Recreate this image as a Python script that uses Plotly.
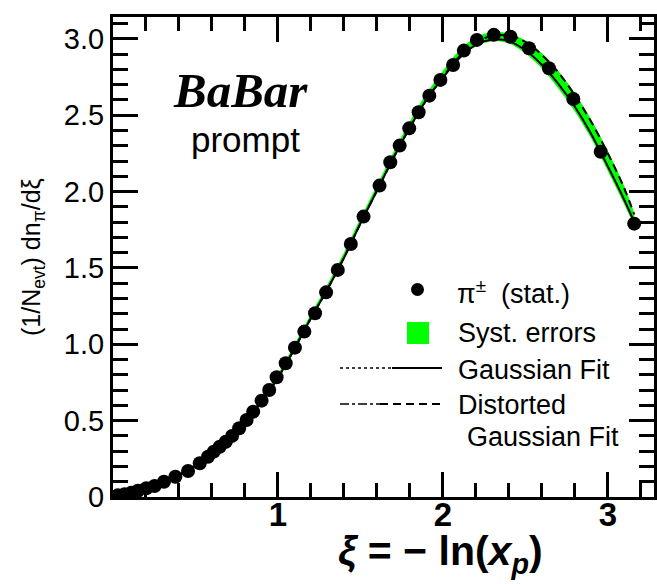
import plotly.graph_objects as go

# ---------------- data ----------------
xi_pts = [0.029, 0.070, 0.111, 0.151, 0.202, 0.252, 0.309, 0.378, 0.455, 0.526,
          0.576, 0.611, 0.647, 0.684, 0.722, 0.765, 0.810, 0.850, 0.901, 0.947,
          0.992, 1.047, 1.103, 1.160, 1.225, 1.292, 1.363, 1.442, 1.519, 1.616,
          1.681, 1.738, 1.796, 1.853, 1.918, 1.985, 2.062, 2.127, 2.206, 2.309,
          2.410, 2.522, 2.643, 2.791, 2.957, 3.160]
dn_pts = [0.011, 0.018, 0.028, 0.041, 0.057, 0.072, 0.100, 0.133, 0.170, 0.221,
          0.264, 0.297, 0.329, 0.362, 0.400, 0.450, 0.504, 0.559, 0.631, 0.701,
          0.784, 0.876, 0.978, 1.083, 1.203, 1.340, 1.487, 1.657, 1.836, 2.039,
          2.192, 2.301, 2.414, 2.519, 2.628, 2.731, 2.829, 2.923, 2.993, 3.026,
          3.014, 2.938, 2.807, 2.606, 2.261, 1.790]

fit_x = [0.00, 0.10, 0.20, 0.30, 0.40, 0.50, 0.60, 0.70, 0.80, 0.90, 1.00,
         1.10, 1.20, 1.30, 1.40, 1.50, 1.60, 1.70, 1.80, 1.90, 2.00, 2.10,
         2.20, 2.30, 2.40, 2.50, 2.60, 2.70, 2.80, 2.90, 3.00, 3.10, 3.16]
gauss_fit = [0.005, 0.025, 0.055, 0.095, 0.145, 0.205, 0.285, 0.375, 0.490, 0.625, 0.780,
             0.970, 1.170, 1.360, 1.565, 1.790, 2.005, 2.220, 2.420, 2.600, 2.745, 2.875,
             2.960, 2.995, 2.985, 2.925, 2.830, 2.705, 2.555, 2.375, 2.165, 1.945, 1.800]
dist_fit = [0.005, 0.025, 0.055, 0.095, 0.145, 0.205, 0.285, 0.375, 0.490, 0.625, 0.780,
            0.970, 1.170, 1.360, 1.565, 1.790, 2.005, 2.220, 2.420, 2.600, 2.750, 2.885,
            2.975, 3.020, 3.020, 2.980, 2.895, 2.780, 2.630, 2.455, 2.250, 2.020, 1.850]
syst_lo = [0.000, 0.018, 0.046, 0.085, 0.135, 0.195, 0.275, 0.365, 0.480, 0.615, 0.770,
           0.960, 1.160, 1.350, 1.555, 1.780, 1.995, 2.210, 2.410, 2.590, 2.735, 2.865,
           2.950, 2.985, 2.970, 2.905, 2.805, 2.675, 2.525, 2.345, 2.135, 1.915, 1.775]
syst_hi = [0.012, 0.032, 0.064, 0.105, 0.157, 0.220, 0.302, 0.393, 0.510, 0.647, 0.805,
           0.998, 1.200, 1.392, 1.600, 1.825, 2.042, 2.258, 2.460, 2.642, 2.790, 2.925,
           3.010, 3.045, 3.035, 2.990, 2.905, 2.790, 2.645, 2.470, 2.265, 2.035, 1.860]

y_tickvals = [0, 0.5, 1.0, 1.5, 2.0, 2.5, 3.0]
y_ticktext = ["0", "0.5", "1.0", "1.5", "2.0", "2.5", "3.0"]
x_tickvals = [1, 2, 3]
x_ticktext = ["<b>1</b>", "<b>2</b>", "<b>3</b>"]

GREEN = "#00ff00"
FONT = "Liberation Sans, Arial, sans-serif"

# ---------------- geometry helpers (layout only) ----------------
W, H = 657, 584
ML, MR, MT, MB = 113, 3, 17, 87
PW, PH = W - ML - MR, H - MT - MB


def px(x):
    return (x - ML) / PW


def py(y):
    return (H - MB - y) / PH


fig = go.Figure()

# systematic band
fig.add_trace(go.Scatter(x=fit_x, y=syst_lo, mode="lines", line=dict(width=0, shape="spline"),
                         hoverinfo="skip", showlegend=False))
fig.add_trace(go.Scatter(x=fit_x, y=syst_hi, mode="lines", line=dict(width=0, shape="spline"),
                         fill="tonexty", fillcolor=GREEN, hoverinfo="skip", showlegend=False))
# fits
fig.add_trace(go.Scatter(x=fit_x, y=gauss_fit, mode="lines",
                         line=dict(color="black", width=2, shape="spline"), showlegend=False))
fig.add_trace(go.Scatter(x=fit_x, y=dist_fit, mode="lines",
                         line=dict(color="black", width=2, dash="8px,5px", shape="spline"),
                         showlegend=False))
# data points
fig.add_trace(go.Scatter(x=xi_pts, y=dn_pts, mode="markers",
                         marker=dict(color="black", size=14, line=dict(width=0)),
                         showlegend=False))

shapes = []
annotations = []

# manual legend
shapes.append(dict(type="circle", xref="paper", yref="paper",
                   x0=px(411), x1=px(424), y0=py(296), y1=py(283),
                   fillcolor="black", line=dict(width=0)))
shapes.append(dict(type="rect", xref="paper", yref="paper",
                   x0=px(407), x1=px(429), y0=py(344), y1=py(322),
                   fillcolor=GREEN, line=dict(width=0)))
shapes.append(dict(type="line", xref="paper", yref="paper",
                   x0=px(340), x1=px(392), y0=py(368), y1=py(368),
                   line=dict(color="black", width=1.5, dash="dot")))
shapes.append(dict(type="line", xref="paper", yref="paper",
                   x0=px(392), x1=px(442), y0=py(368), y1=py(368),
                   line=dict(color="black", width=2)))
shapes.append(dict(type="line", xref="paper", yref="paper",
                   x0=px(340), x1=px(380), y0=py(404), y1=py(404),
                   line=dict(color="black", width=1.5, dash="dashdot")))
shapes.append(dict(type="line", xref="paper", yref="paper",
                   x0=px(380), x1=px(442), y0=py(404), y1=py(404),
                   line=dict(color="black", width=2, dash="8px,5px")))

leg_font = dict(family=FONT, size=27, color="black")
for txt, x, y in [("π<sup>±</sup>  (stat.)", 455, 292),
                  ("Syst. errors", 456, 333),
                  ("Gaussian Fit", 456, 370),
                  ("Distorted", 456, 405),
                  ("Gaussian Fit", 465, 437)]:
    annotations.append(dict(text=txt, xref="paper", yref="paper", x=px(x), y=py(y),
                            xanchor="left", yanchor="middle", showarrow=False, font=leg_font))

annotations.append(dict(text="<b><i>BaBar</i></b>", xref="paper", yref="paper",
                        x=px(240), y=py(90), xanchor="center", yanchor="middle", showarrow=False,
                        font=dict(family="Liberation Serif, Times New Roman, serif", size=49, color="black")))
annotations.append(dict(text="prompt", xref="paper", yref="paper",
                        x=px(245), y=py(139), xanchor="center", yanchor="middle", showarrow=False,
                        font=dict(family=FONT, size=35, color="black")))

# axis titles
annotations.append(dict(text="<b><i>ξ</i> = − ln(<i>x<sub>p</sub></i>)</b>", xref="paper", yref="paper",
                        x=px(440), y=py(554), xanchor="center", yanchor="middle", showarrow=False,
                        font=dict(family=FONT, size=41, color="black")))
annotations.append(dict(text="(1/N<sub>evt</sub>) dn<sub>π</sub>/dξ", xref="paper", yref="paper",
                        x=px(33), y=py(257), xanchor="center", yanchor="middle", showarrow=False,
                        textangle=-90, font=dict(family=FONT, size=25, color="black")))

axis_common = dict(showgrid=False, zeroline=False, showline=True, linecolor="black", linewidth=3,
                   mirror="ticks", ticks="inside", tickcolor="black", tickwidth=3, ticklen=25,
                   automargin=False)

fig.update_layout(
    width=W, height=H,
    margin=dict(l=ML, r=MR, t=MT, b=MB, pad=0),
    paper_bgcolor="white", plot_bgcolor="white",
    shapes=shapes, annotations=annotations,
    xaxis=dict(range=[0, 3.28], tickvals=x_tickvals, ticktext=x_ticktext,
               tickfont=dict(family=FONT, size=33, color="black"), ticklabelstandoff=-14,
               minor=dict(dtick=0.2, tick0=0, ticks="inside", ticklen=14, tickwidth=3,
                          tickcolor="black", showgrid=False),
               **axis_common),
    yaxis=dict(range=[0, 3.143], tickvals=y_tickvals, ticktext=y_ticktext,
               tickfont=dict(family=FONT, size=29, color="black"),
               minor=dict(dtick=0.1, tick0=0, ticks="inside", ticklen=15, tickwidth=3,
                          tickcolor="black", showgrid=False),
               **axis_common),
)

fig.write_html("out.html", config={"responsive": False},
               post_script="document.body.style.margin='0';document.body.style.overflow='hidden';")
